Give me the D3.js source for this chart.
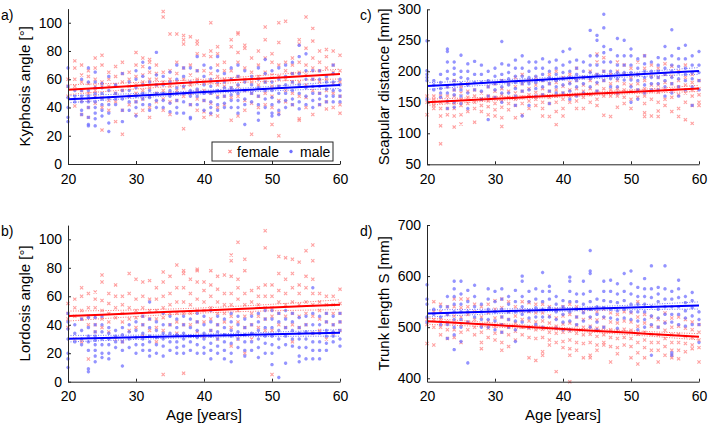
<!DOCTYPE html>
<meta charset="utf-8">
<title>Spine parameters vs age</title>
<style>
body { margin: 0; background: #fff; }
svg { font-family: "Liberation Sans", Arial, sans-serif; }
.axis path, .axis line { stroke: #262626; }
.axis text { fill: #000; font-size: 14px; }
.ylabel, .xlabel { font-size: 15px; fill: #000; }
.letter { font-size: 14px; fill: #000; }
</style>
<svg width="709" height="423"></svg>
<script src="https://d3js.org/d3.v7.min.js"></script>
<script>

var ages = [20,21,22,23,24,25,26,27,28,29,30,31,32,33,34,35,36,37,38,39,40,
            41,42,43,44,45,46,47,48,49,50,51,52,53,54,55,56,57,58,59,60];
var fitAges = [20, 30, 40, 50, 60];

// values per age (one list for each age above)
var kyphosisFemale = [
  [55,48,60],[73,68,41,55,60],[70,63,58,52,45,35],[66,62,57,50,45,40,33],[75,68,60,55,52,48,43],
  [77,70,58,55,47,40,24],[65,60,55,45,38],[69,62,56,50,44,30],[72,64,58,52,38,21],[65,60,55,48,42],
  [79,70,62,56,50,44,35],[75,69,63,58,52,46,38],[74,72,65,60,54,48,40,33],[70,64,60,56,50,44],[108,104,65,58,52,46,38],
  [92,66,60,55,50,44,35],[92,72,64,58,52,45],[91,88,85,68,60,54,48,25],[90,70,63,56,50,42],[87,85,78,66,60,52,46,38],
  [77,66,58,52,45,37,33],[100,80,76,64,58,50,43,35],[83,78,70,62,56,48,40,34],[72,66,60,55,48,42],[88,83,66,60,54,47,31],
  [93,92,79,72,62,55,48,34],[84,82,68,60,52,45,38],[75,65,58,50,43,21],[80,70,62,56,48,40],[97,88,75,65,58,50,42],
  [78,72,63,55,48,40,28],[100,86,70,62,55,45,36,20],[101,72,66,60,52,44],[75,70,64,58,50,42],[88,85,72,65,58,48,32,31],
  [104,82,70,63,56,47,40],[96,87,75,68,60,52,35],[80,72,66,58,50,42],[81,76,68,60,52,44,39],[80,70,65,57,50,40],
  [77,66,58,48,42,36]
];
var kyphosisMale = [
  [68,55,47,40,33,30],[52,48,44],[60,52,48,44,38,35],[68,58,52,48,44,40,33,28,27],[65,58,54,50,47,44,40,36,32,27],
  [57,54,50,46,42,38,34],[62,52,47,42,36,29,23],[56,50,46,42],[64,52,46,38,30],[58,52,48,44,38],
  [66,60,54,48,44,40,34],[72,62,56,50,46,42],[68,58,52,47,42,38],[79,63,56,50,45,40],[62,56,50,45,40],
  [65,58,52,48,43,37],[70,60,54,50,45,40,36],[68,62,55,50,44,36],[68,58,52,48,42,33,32],[76,66,58,53,48,42],
  [70,62,56,50,45,38],[68,60,55,50,44,40,36],[76,66,58,52,47,42,38],[64,58,54,48,43,40],[68,60,54,49,45,40],
  [70,62,56,50,45,40,36],[66,58,52,46,42,28],[62,56,50,44],[68,60,54,48,42,36,31],[74,64,58,52,46,40],
  [66,58,52,47,42,36,34],[68,60,55,50,44,38,35],[70,62,56,50,45,40],[72,64,58,52,46,42],[84,76,64,56,50,44,39],
  [78,66,60,54,48,42],[66,60,55,50,45,40],[66,60,55,50,46,42],[62,58,53,48,44],[70,64,58,52,48,44],
  [60,56,52,48,44]
];
var scapularFemale = [
  [160,150,130],[160,155,150,145,140],[160,150,140,128,112,83],[175,160,150,140,130],[185,170,160,148,140,128,110],
  [175,165,155,145,130,115],[180,168,158,148,135],[170,160,150,140,118],[165,155,145,135],[175,160,152,143,130],
  [180,168,158,148,138,128],[185,172,162,152,142,125,111],[180,168,158,148,138],[190,175,165,155,145,125],[195,180,168,158,148,130],
  [185,172,162,152,140],[190,178,166,155,145],[185,172,162,150,140,128],[195,180,168,158,148,127],[200,182,170,160,150,135,114],
  [190,176,165,155,140,128],[195,182,170,160,150],[205,185,172,162,152,140],[190,178,168,158,140],[200,185,172,162,150],
  [228,215,195,180,168,155,145],[222,200,185,172,160,129],[195,180,170,160,127],[215,200,185,172,160,142],[210,195,180,170,158,148],
  [205,190,178,168,155,140],[215,195,180,170,158],[225,205,185,172,160,148,133,127],[210,192,178,168,155,128],[205,190,178,166,150,136,127],
  [212,195,182,170,155,145],[208,192,180,170,158,135],[200,185,175,162,140,127],[210,190,178,165,150,122],[195,182,170,160,145,116],
  [185,172,162,150,145]
];
var scapularMale = [
  [249,201,195,190,185,155],[185,178,170],[195,182,172,165,158],[236,232,215,200,188,175,165,152,140],[215,205,195,185,178,170,162,150,142],
  [226,200,190,180,170,160,148],[212,200,188,178,165,140],[216,195,182,170],[210,195,182,168,155],[200,185,175,160,122],
  [205,192,180,170,158],[248,212,195,185,175,165,150],[210,198,188,178,165],[218,205,192,182,172,160,145],[225,205,192,180,168,128],
  [215,200,190,180,170,145],[215,205,192,182,172,160],[220,205,195,185,175,162],[215,200,190,180,168,148],[218,205,195,185,175,165],
  [232,210,198,188,178,165],[236,215,200,190,180,168,155],[218,205,195,185,175,160],[215,200,190,180,165],[266,225,210,198,188,175],
  [258,250,225,210,195,182,168],[292,270,240,230,215,200,185],[235,215,200,188,175],[253,225,210,198,188,175,165],[250,225,210,198,186],
  [236,225,210,198,186,175,150],[220,205,195,185,170,155],[225,212,200,190,178,165],[215,200,190,180,170],[222,210,200,190,180,170],
  [240,220,205,195,185,175,160],[267,225,210,200,190,180,165],[237,220,208,198,188,175,160],[242,220,205,195,185,170],[225,210,198,188,175,145],
  [232,210,198,185,170]
];
var lordosisFemale = [
  [55,48,44,38],[58,52,46,30],[66,60,50,44,28],[62,52,46,40,16],[63,58,52,46,40,35],
  [75,70,57,50,44,38],[62,55,48,42,35],[68,60,52,45,30],[60,54,48,42,28],[76,62,52,44,36],
  [72,58,50,45,38],[70,60,52,46,40,32],[71,58,50,44,36],[66,58,50,44,38,28],[77,70,60,52,45,36,5],
  [74,62,54,48,40],[82,66,56,48,42,34],[78,76,66,56,48,40,6],[72,62,54,48,40],[79,78,70,58,50,42,35],
  [70,64,56,50,42,32],[78,68,60,52,44,36],[74,65,56,48,40,30],[75,62,54,48,42],[89,85,74,62,54,46,38,25],
  [98,72,66,58,50,42,30],[86,78,62,54,46,38,20],[64,56,48,40,30],[66,60,54,46,38],[106,94,68,60,52,44,36],
  [68,60,52,46,36,5],[88,76,64,56,48,40],[87,72,62,54,46,38],[86,76,66,56,48,40,28],[84,68,62,54,46,38],
  [92,74,66,56,48,40],[96,85,72,62,54,46,34],[62,56,50,44,36],[60,54,48,42,30],[60,54,48,40,34],
  [65,55,48,42,36]
];
var lordosisMale = [
  [48,42,37,30,20,16,10],[40,34,28],[44,36,30,26],[45,38,32,28,22,9,7],[45,40,35,32,29,26,22,18,14],
  [46,40,35,30,26,20,17],[38,34,30,26,20,16],[36,32,28,24],[38,33,28,22,11],[40,35,30,24],
  [42,36,31,26,20],[46,40,34,30,26,22],[56,44,38,32,28,22,18],[42,36,31,26,20],[48,40,34,30,25,18],
  [46,40,34,28,22],[44,38,33,28,24,20],[46,40,34,30,25,20],[44,38,32,28,22],[48,42,36,31,26,20],
  [46,40,34,30,24,20],[50,42,36,32,27,22,16],[46,40,35,30,25,20],[44,38,33,28,22,16],[48,42,36,32,27,20,14],
  [46,40,35,30,24],[44,38,33,28,22,18],[46,40,34,28,22],[48,42,36,30,24,17],[50,44,38,32,27,20],
  [50,44,38,32,26,20,12],[48,42,36,30,24,3],[50,44,38,32,26,13],[48,42,36,30,25],[45,38,34,30,24,18,14],
  [46,40,35,30,24,16],[66,48,40,34,28,22,16],[46,40,34,28,22,16],[48,42,36,32,27,22],[46,40,35,32,28],
  [48,42,36,30,25]
];
var trunkFemale = [
  [515,505,468],[550,530,515,500,465],[545,530,515,500,485],[540,525,510,495,478],[555,540,522,508,495,480],
  [555,538,520,505,490,470],[555,540,525,510,495],[545,530,515,500,485],[540,520,505,490,470,458],[545,528,512,498,480],
  [552,535,518,502,488,475],[555,538,520,505,490,470,455],[550,530,515,500,485,462],[540,522,508,492,475],[550,532,515,500,485],
  [548,530,512,498,480,440],[545,528,510,495,478,435],[545,528,512,496,480,452,445],[540,522,508,490,475,465],[535,518,502,488,470,413],
  [540,522,506,490,472,460],[545,525,508,492,475,458,445,393],[540,520,504,488,470,455],[530,515,500,485,468,440],[535,518,502,486,470,445,440],
  [530,514,498,482,465,455],[535,518,500,485,470,465],[528,510,495,480,462,432],[525,508,494,478,460,448],[530,512,496,480,465],
  [528,510,494,478,462,440],[550,520,502,486,470,450,428],[525,508,490,475,460,440],[520,502,486,470,455],[515,500,485,470,455,432],
  [528,510,494,478,462,445],[518,500,485,470,455,445,440],[520,502,486,470,455,438],[515,498,482,468,452],[510,495,480,465,458],
  [505,490,475,460,432]
];
var trunkMale = [
  [583,555,545,520,510],[535,525],[540,520,505],[560,540,525,505,478],[590,575,560,545,530,515,500,485,456],
  [590,565,545,530,515,500,472],[572,550,530,510,430],[582,560,540,520],[545,530,515,500],[575,555,535,515,500],
  [570,550,530,512,495],[575,555,535,520,505,490],[560,545,530,515,500],[572,550,530,512,495,472],[600,590,560,540,525,510],
  [570,550,532,518,500],[575,555,538,520,505],[607,570,550,535,520,500],[580,570,555,538,520],[560,545,530,515,498],
  [552,540,525,510,495],[598,590,570,550,530,512,495],[565,550,535,520,505],[590,565,545,528,512],[650,610,605,570,550,535,520,500],
  [555,540,525,510,495],[590,570,552,538,520,500],[592,570,550,535,518],[585,565,548,532,515,498],[605,570,552,535,518],
  [610,585,565,545,530,515],[578,560,545,530,512,495],[595,575,560,545,530,515,500],[620,575,558,540,522,505,445],[578,565,550,535,518,500],
  [620,575,555,540,525,508],[570,555,540,525,510,450,445],[592,575,558,540,525,505],[560,548,532,518,502],[568,552,538,522,505],
  [530,515,505,470]
];

// fitted lines and confidence bounds at fitAges
var kyphFitF = [52.6,55.4,58.2,60.9,63.7], kyphUpF = [56.1,57.7,60.0,63.2,67.2], kyphLoF = [49.1,53.1,56.4,58.6,60.2];
var kyphFitM = [45.8,48.3,50.9,53.4,55.9], kyphUpM = [48.3,49.9,52.1,55.0,58.4], kyphLoM = [43.3,46.7,49.7,51.8,53.4];
var scapFitF = [150,155.6,161.2,166.8,172.4], scapUpF = [155,158.6,163.7,169.8,177.4], scapLoF = [145,152.6,158.7,163.8,167.4];
var scapFitM = [176.2,182.3,188.4,194.5,200.6], scapUpM = [181.7,185.8,191.2,198,206.1], scapLoM = [170.7,178.8,185.6,191,195.1];
var lordFitF = [46.1,48.1,50.1,52.1,54.1], lordUpF = [49.6,50.4,51.9,54.4,57.6], lordLoF = [42.6,45.8,48.3,49.8,50.6];
var lordFitM = [30.2,31.2,32.3,33.3,34.3], lordUpM = [32.5,32.7,33.4,34.8,36.6], lordLoM = [27.9,29.7,31.2,31.8,32.0];
var trunkFitF = [511.8,504.2,496.5,488.9,481.2], trunkUpF = [517.8,508.2,499.5,492.9,487.2], trunkLoF = [505.8,500.2,493.5,484.9,475.2];
var trunkFitM = [526.9,530.8,534.7,538.6,542.5], trunkUpM = [533.9,535.3,538.2,543.1,549.5], trunkLoM = [519.9,526.3,531.2,534.1,535.5];

var xTicks = [20, 30, 40, 50, 60];

var panels = [
  {letter: "a)", label: "Kyphosis angle [°]", x0: 68, x1: 340, yTop: 8.6, yBot: 164, dom: [0, 110],
   ticks: [0,20,40,60,80,100], f: kyphosisFemale, m: kyphosisMale,
   fitF: [kyphFitF, kyphUpF, kyphLoF], fitM: [kyphFitM, kyphUpM, kyphLoM], legend: true, xlabel: false},
  {letter: "c)", label: "Scapular distance [mm]", x0: 427, x1: 699, yTop: 9.3, yBot: 164.3, dom: [50, 300],
   ticks: [50,100,150,200,250,300], f: scapularFemale, m: scapularMale,
   fitF: [scapFitF, scapUpF, scapLoF], fitM: [scapFitM, scapUpM, scapLoM], xlabel: false},
  {letter: "b)", label: "Lordosis angle [°]", x0: 68, x1: 340, yTop: 225.1, yBot: 381.7, dom: [0, 110],
   ticks: [0,20,40,60,80,100], f: lordosisFemale, m: lordosisMale,
   fitF: [lordFitF, lordUpF, lordLoF], fitM: [lordFitM, lordUpM, lordLoM], xlabel: true},
  {letter: "d)", label: "Trunk length S [mm]", x0: 427, x1: 699, yTop: 225, yBot: 381.7, dom: [393.3, 700],
   ticks: [400,500,600,700], f: trunkFemale, m: trunkMale,
   fitF: [trunkFitF, trunkUpF, trunkLoF], fitM: [trunkFitM, trunkUpM, trunkLoM], xlabel: true}
];

var svg = d3.select("svg");
var femaleColor = "#ff8080", maleColor = "#7070ff";

function flatten(lists) {
  var out = [];
  lists.forEach(function(vals, i) {
    vals.forEach(function(v) { out.push({age: ages[i], v: v}); });
  });
  return out;
}

function crossPath(s) {
  return "M" + (-s) + "," + (-s) + "L" + s + "," + s + "M" + (-s) + "," + s + "L" + s + "," + (-s);
}
function starPath(s) {
  var d = s * 0.7;
  return "M" + (-s) + ",0L" + s + ",0M0," + (-s) + "L0," + s +
         "M" + (-d) + "," + (-d) + "L" + d + "," + d + "M" + (-d) + "," + d + "L" + d + "," + (-d);
}

panels.forEach(function(p) {
  var x = d3.scaleLinear().domain([20, 60]).range([p.x0, p.x1]);
  var y = d3.scaleLinear().domain(p.dom).range([p.yBot, p.yTop]);
  var g = svg.append("g");

  // scatter
  g.append("g").selectAll("path")
    .data(flatten(p.f))
    .enter().append("path")
      .attr("transform", function(d) { return "translate(" + x(d.age) + "," + y(d.v) + ")"; })
      .attr("d", crossPath(1.6))
      .attr("stroke", femaleColor)
      .attr("stroke-width", 1.1)
      .attr("stroke-opacity", 0.75)
      .attr("fill", "none");

  g.append("g").selectAll("path")
    .data(flatten(p.m))
    .enter().append("path")
      .attr("transform", function(d) { return "translate(" + x(d.age) + "," + y(d.v) + ")"; })
      .attr("d", starPath(1.7))
      .attr("stroke", maleColor)
      .attr("stroke-width", 1.1)
      .attr("stroke-opacity", 0.75)
      .attr("fill", "none");

  // fits
  var line = d3.line()
      .x(function(d, i) { return x(fitAges[i]); })
      .y(function(d) { return y(d); })
      .curve(d3.curveMonotoneX);

  [[p.fitF, "#ff0000", "#ff5050"], [p.fitM, "#0000ff", "#5050ff"]].forEach(function(s) {
    [s[0][1], s[0][2]].forEach(function(b) {
      g.append("path").attr("d", line(b))
        .attr("fill", "none").attr("stroke", s[2])
        .attr("stroke-width", 0.8).attr("stroke-dasharray", "1,1.5");
    });
    g.append("path").attr("d", line(s[0][0]))
      .attr("fill", "none").attr("stroke", s[1]).attr("stroke-width", 2);
  });

  // axes
  g.append("g").attr("class", "axis")
    .attr("transform", "translate(0," + p.yBot + ")")
    .call(d3.axisBottom(x).tickValues(xTicks).tickSizeInner(-3).tickSizeOuter(0).tickPadding(7))
    .call(function(a) { a.selectAll("text").attr("dy", "0.9em"); });

  g.append("g").attr("class", "axis")
    .attr("transform", "translate(" + p.x0 + ",0)")
    .call(d3.axisLeft(y).tickValues(p.ticks).tickSizeInner(-3).tickSizeOuter(0).tickPadding(6));

  svg.selectAll(".axis .domain").attr("stroke-width", 1);

  g.append("text").attr("class", "ylabel")
    .attr("transform", "translate(" + (p.x0 - 38) + "," + ((p.yTop + p.yBot) / 2) + ") rotate(-90)")
    .attr("text-anchor", "middle")
    .text(p.label);

  g.append("text").attr("class", "letter")
    .attr("x", p.x0 - 67).attr("y", p.yTop + 11)
    .text(p.letter);

  if (p.xlabel) {
    g.append("text").attr("class", "xlabel")
      .attr("x", (p.x0 + p.x1) / 2).attr("y", 420)
      .attr("text-anchor", "middle")
      .text("Age [years]");
  }

  if (p.legend) {
    var lg = g.append("g").attr("transform", "translate(212,142)");
    lg.append("rect").attr("width", 121).attr("height", 19)
      .attr("fill", "#fff").attr("stroke", "#262626").attr("stroke-width", 1);
    lg.append("path").attr("transform", "translate(18,9.5)").attr("d", crossPath(1.6))
      .attr("stroke", femaleColor).attr("stroke-width", 1.1).attr("fill", "none");
    lg.append("text").attr("x", 25).attr("y", 14.5).attr("font-size", 14).text("female");
    lg.append("path").attr("transform", "translate(79,9.5)").attr("d", starPath(1.7))
      .attr("stroke", maleColor).attr("stroke-width", 1.1).attr("fill", "none");
    lg.append("text").attr("x", 88).attr("y", 14.5).attr("font-size", 14).text("male");
  }
});

</script>
